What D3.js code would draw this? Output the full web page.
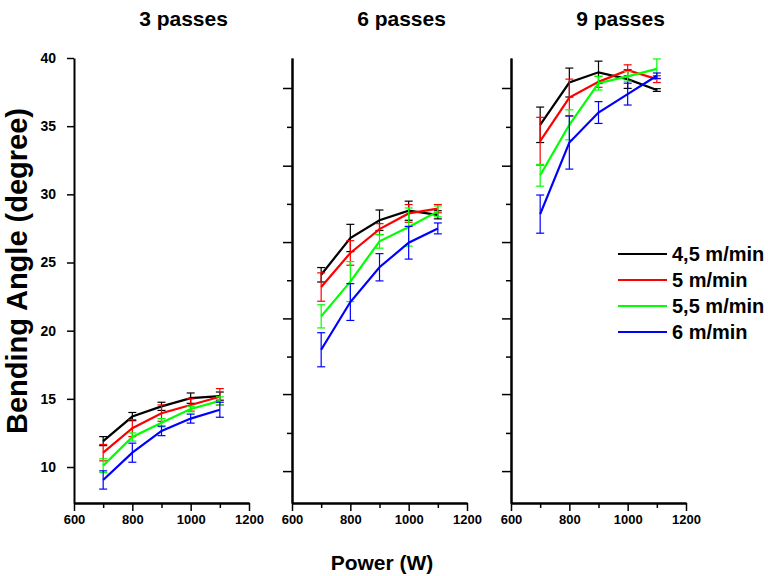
<!DOCTYPE html>
<html>
<head>
<meta charset="utf-8">
<script src="https://cdn.jsdelivr.net/npm/d3@7"></script>
<style>
	body { margin: 0; background: #fff; }
	text { font-family: "Liberation Sans", Arial, sans-serif; font-weight: bold; }
</style>
</head>
<body>
<div id="chart"></div>
<script>
var power = [700, 800, 900, 1000, 1100];
var speeds = ["4,5 m/min", "5 m/min", "5,5 m/min", "6 m/min"];
var colors = ["#000000", "#ff0000", "#00ff00", "#0000ff"];
var titles = ["3 passes", "6 passes", "9 passes"];

// bending angle, one row per speed
var angles3 = [
	[11.9, 13.7, 14.45, 15.05, 15.2],
	[11.05, 12.85, 13.95, 14.55, 15.15],
	[10.1, 12.2, 13.25, 14.25, 14.85],
	[9.05, 11.05, 12.65, 13.55, 14.2]
];
var errors3 = [
	[0.33, 0.3, 0.3, 0.38, 0.3],
	[0.6, 0.62, 0.6, 0.45, 0.6],
	[0.5, 0.3, 0.3, 0.2, 0.3],
	[0.67, 0.7, 0.35, 0.33, 0.55]
];
var angles6 = [
	[24.1, 26.8, 28.1, 28.8, 28.5],
	[23.2, 25.7, 27.45, 28.6, 28.95],
	[21.05, 23.6, 26.55, 27.6, 28.75],
	[18.6, 22.1, 24.65, 26.45, 27.5]
];
var errors6 = [
	[0.53, 1.0, 0.75, 0.7, 0.3],
	[1.04, 0.9, 0.4, 0.65, 0.3],
	[0.85, 1.47, 0.5, 1.4, 0.4],
	[1.25, 1.35, 1.0, 1.2, 0.4]
];
var angles9 = [
	[35.1, 38.2, 38.95, 38.45, 37.65],
	[33.9, 37.1, 38.25, 39.1, 38.45],
	[31.4, 35.1, 38.15, 38.65, 39.2],
	[28.55, 33.8, 36.0, 37.35, 38.7]
];
var errors9 = [
	[1.3, 1.06, 0.82, 0.68, 0.1],
	[1.75, 1.35, 0.4, 0.4, 0.25],
	[0.8, 1.1, 0.5, 0.35, 0.73],
	[1.4, 1.95, 0.8, 0.8, 0.2]
];

var xTicks = [600, 800, 1000, 1200];
var xMinorTicks = [700, 900, 1100];
var yTicks = [10, 15, 20, 25, 30, 35, 40];
var sideTicks = [37.8, 32.1, 26.5, 20.9, 15.35, 9.7];
var sideMinorTicks = [34.95, 29.3, 23.7, 18.1, 12.5];

var panels = [
	{ left: 74, angles: angles3, errors: errors3 },
	{ left: 292, angles: angles6, errors: errors6 },
	{ left: 511, angles: angles9, errors: errors9 }
];

var width = 768,
		height = 576,
		plotW = 175,
		plotTop = 58,
		plotBottom = 503;

var svg = d3.select("#chart").append("svg")
	.attr("width", width)
	.attr("height", height);

var y = d3.scaleLinear().domain([7.36, 40]).range([plotBottom, plotTop]);

panels.forEach(function(panel, p) {
	var x = d3.scaleLinear().domain([600, 1200]).range([panel.left, panel.left + plotW]);
	var g = svg.append("g");

	g.append("text")
		.attr("x", panel.left + plotW / 2 + 22)
		.attr("y", 26)
		.attr("text-anchor", "middle")
		.attr("font-size", 21)
		.text(titles[p]);

	// x axis
	var xAxis = g.append("g")
		.attr("transform", "translate(0," + plotBottom + ")")
		.call(d3.axisBottom(x).tickValues(xTicks).tickSize(8).tickPadding(4).tickFormat(d3.format("d")).tickSizeOuter(0));
	xAxis.append("g")
		.call(d3.axisBottom(x).tickValues(xMinorTicks).tickSize(5).tickFormat("").tickSizeOuter(0));
	xAxis.selectAll("text").attr("font-size", 13).attr("fill", "#000");

	// y axis
	var yAxis = g.append("g")
		.attr("transform", "translate(" + panel.left + ",0)");
	if (p == 0) {
		yAxis.call(d3.axisLeft(y).tickValues(yTicks).tickSize(7).tickPadding(11).tickSizeOuter(0));
		yAxis.selectAll("text").attr("font-size", 14).attr("fill", "#000");
	} else {
		yAxis.call(d3.axisLeft(y).tickValues(sideTicks).tickSize(9).tickFormat("").tickSizeOuter(0));
		yAxis.append("g")
			.call(d3.axisLeft(y).tickValues(sideMinorTicks).tickSize(5).tickFormat("").tickSizeOuter(0));
	}
	g.selectAll(".domain").attr("stroke", "#000").attr("stroke-width", 2);
	g.selectAll(".tick line").attr("stroke", "#000").attr("stroke-width", 1.5);

	var line = d3.line()
		.x(function(d, i) { return x(power[i]); })
		.y(function(d) { return y(d); });

	panel.angles.forEach(function(series, s) {
		var col = colors[s];
		var bars = g.append("g").attr("stroke", col).attr("stroke-width", 1.2).attr("fill", "none");
		series.forEach(function(v, i) {
			var e = panel.errors[s][i],
					cx = x(power[i]);
			bars.append("line").attr("x1", cx).attr("x2", cx).attr("y1", y(v - e)).attr("y2", y(v + e));
			bars.append("line").attr("x1", cx - 4).attr("x2", cx + 4).attr("y1", y(v - e)).attr("y2", y(v - e));
			bars.append("line").attr("x1", cx - 4).attr("x2", cx + 4).attr("y1", y(v + e)).attr("y2", y(v + e));
		});
		g.append("path")
			.datum(series)
			.attr("fill", "none")
			.attr("stroke", col)
			.attr("stroke-width", 2.2)
			.attr("d", line);
	});
});

// legend
var legend = svg.append("g");
speeds.forEach(function(name, i) {
	var ly = 254 + i * 26;
	legend.append("line")
		.attr("x1", 618).attr("x2", 667)
		.attr("y1", ly).attr("y2", ly)
		.attr("stroke", colors[i])
		.attr("stroke-width", 2.2);
	legend.append("text")
		.attr("x", 672)
		.attr("y", ly + 7)
		.attr("font-size", 20)
		.text(name);
});

svg.append("text")
	.attr("x", 382)
	.attr("y", 570)
	.attr("text-anchor", "middle")
	.attr("font-size", 21)
	.text("Power (W)");

svg.append("text")
	.attr("transform", "translate(27,271) rotate(-90)")
	.attr("text-anchor", "middle")
	.attr("font-size", 29)
	.text("Bending Angle (degree)");
</script>
</body>
</html>
